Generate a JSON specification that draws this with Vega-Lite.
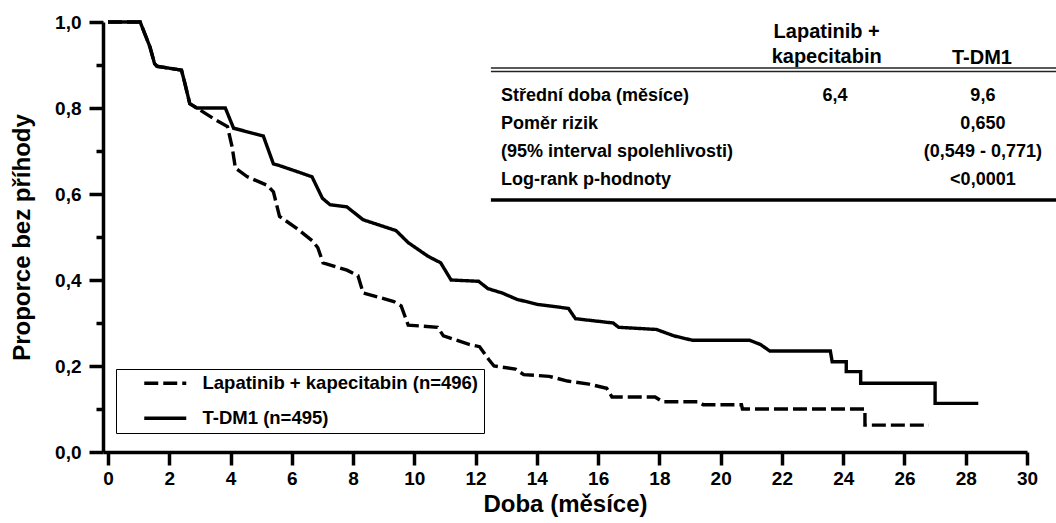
{
  "$schema": "https://vega.github.io/schema/vega-lite/v6.json",
  "width": 924,
  "height": 430,
  "autosize": {"type": "none"},
  "padding": {"left": 103, "top": 22, "right": 29, "bottom": 71},
  "background": "white",
  "config": {
    "view": {"stroke": null},
    "font": "Liberation Sans",
    "axis": {
      "domainColor": "black", "domainWidth": 3.5, "tickColor": "black", "tickWidth": 3.5,
      "labelColor": "black", "labelFont": "Liberation Sans", "labelFontWeight": "bold", "labelFontSize": 19,
      "titleColor": "black", "titleFont": "Liberation Sans", "titleFontWeight": "bold", "titleFontSize": 24,
      "grid": false, "labelOverlap": false, "labelFlush": false
    },
    "text": {"font": "Liberation Sans", "fontWeight": "bold", "color": "black"}
  },
  "datasets": {
    "km": [
      {"series": "Lapatinib + kapecitabin (n=496)", "i": 0, "month": 0, "surv": 1},
      {"series": "Lapatinib + kapecitabin (n=496)", "i": 1, "month": 1.05, "surv": 1},
      {"series": "Lapatinib + kapecitabin (n=496)", "i": 2, "month": 1.37, "surv": 0.942},
      {"series": "Lapatinib + kapecitabin (n=496)", "i": 3, "month": 1.52, "surv": 0.903},
      {"series": "Lapatinib + kapecitabin (n=496)", "i": 4, "month": 1.6, "surv": 0.897},
      {"series": "Lapatinib + kapecitabin (n=496)", "i": 5, "month": 2.4, "surv": 0.888},
      {"series": "Lapatinib + kapecitabin (n=496)", "i": 6, "month": 2.5, "surv": 0.86},
      {"series": "Lapatinib + kapecitabin (n=496)", "i": 7, "month": 2.67, "surv": 0.81},
      {"series": "Lapatinib + kapecitabin (n=496)", "i": 8, "month": 2.9, "surv": 0.8},
      {"series": "Lapatinib + kapecitabin (n=496)", "i": 9, "month": 3.43, "surv": 0.776},
      {"series": "Lapatinib + kapecitabin (n=496)", "i": 10, "month": 3.9, "surv": 0.757},
      {"series": "Lapatinib + kapecitabin (n=496)", "i": 11, "month": 4.05, "surv": 0.71},
      {"series": "Lapatinib + kapecitabin (n=496)", "i": 12, "month": 4.16, "surv": 0.66},
      {"series": "Lapatinib + kapecitabin (n=496)", "i": 13, "month": 4.55, "surv": 0.64},
      {"series": "Lapatinib + kapecitabin (n=496)", "i": 14, "month": 5.2, "surv": 0.62},
      {"series": "Lapatinib + kapecitabin (n=496)", "i": 15, "month": 5.4, "surv": 0.605},
      {"series": "Lapatinib + kapecitabin (n=496)", "i": 16, "month": 5.6, "surv": 0.548},
      {"series": "Lapatinib + kapecitabin (n=496)", "i": 17, "month": 6.16, "surv": 0.52},
      {"series": "Lapatinib + kapecitabin (n=496)", "i": 18, "month": 6.69, "surv": 0.49},
      {"series": "Lapatinib + kapecitabin (n=496)", "i": 19, "month": 6.85, "surv": 0.475},
      {"series": "Lapatinib + kapecitabin (n=496)", "i": 20, "month": 7.02, "surv": 0.44},
      {"series": "Lapatinib + kapecitabin (n=496)", "i": 21, "month": 7.8, "surv": 0.423},
      {"series": "Lapatinib + kapecitabin (n=496)", "i": 22, "month": 8.16, "surv": 0.41},
      {"series": "Lapatinib + kapecitabin (n=496)", "i": 23, "month": 8.33, "surv": 0.37},
      {"series": "Lapatinib + kapecitabin (n=496)", "i": 24, "month": 9.33, "surv": 0.35},
      {"series": "Lapatinib + kapecitabin (n=496)", "i": 25, "month": 9.57, "surv": 0.34},
      {"series": "Lapatinib + kapecitabin (n=496)", "i": 26, "month": 9.8, "surv": 0.295},
      {"series": "Lapatinib + kapecitabin (n=496)", "i": 27, "month": 10.76, "surv": 0.29},
      {"series": "Lapatinib + kapecitabin (n=496)", "i": 28, "month": 10.95, "surv": 0.27},
      {"series": "Lapatinib + kapecitabin (n=496)", "i": 29, "month": 11.81, "surv": 0.25},
      {"series": "Lapatinib + kapecitabin (n=496)", "i": 30, "month": 12.13, "surv": 0.245},
      {"series": "Lapatinib + kapecitabin (n=496)", "i": 31, "month": 12.43, "surv": 0.215},
      {"series": "Lapatinib + kapecitabin (n=496)", "i": 32, "month": 12.6, "surv": 0.2},
      {"series": "Lapatinib + kapecitabin (n=496)", "i": 33, "month": 13.3, "surv": 0.193},
      {"series": "Lapatinib + kapecitabin (n=496)", "i": 34, "month": 13.57, "surv": 0.18},
      {"series": "Lapatinib + kapecitabin (n=496)", "i": 35, "month": 14.4, "surv": 0.176},
      {"series": "Lapatinib + kapecitabin (n=496)", "i": 36, "month": 15.0, "surv": 0.165},
      {"series": "Lapatinib + kapecitabin (n=496)", "i": 37, "month": 15.7, "surv": 0.158},
      {"series": "Lapatinib + kapecitabin (n=496)", "i": 38, "month": 16.28, "surv": 0.148},
      {"series": "Lapatinib + kapecitabin (n=496)", "i": 39, "month": 16.45, "surv": 0.128},
      {"series": "Lapatinib + kapecitabin (n=496)", "i": 40, "month": 17.86, "surv": 0.128},
      {"series": "Lapatinib + kapecitabin (n=496)", "i": 41, "month": 18.1, "surv": 0.117},
      {"series": "Lapatinib + kapecitabin (n=496)", "i": 42, "month": 19.28, "surv": 0.117},
      {"series": "Lapatinib + kapecitabin (n=496)", "i": 43, "month": 19.43, "surv": 0.11},
      {"series": "Lapatinib + kapecitabin (n=496)", "i": 44, "month": 20.68, "surv": 0.11},
      {"series": "Lapatinib + kapecitabin (n=496)", "i": 45, "month": 20.71, "surv": 0.1},
      {"series": "Lapatinib + kapecitabin (n=496)", "i": 46, "month": 24.71, "surv": 0.1},
      {"series": "Lapatinib + kapecitabin (n=496)", "i": 47, "month": 24.71, "surv": 0.0625},
      {"series": "Lapatinib + kapecitabin (n=496)", "i": 48, "month": 26.8, "surv": 0.0625},
      {"series": "T-DM1 (n=495)", "i": 100, "month": 0, "surv": 1},
      {"series": "T-DM1 (n=495)", "i": 101, "month": 1.05, "surv": 1},
      {"series": "T-DM1 (n=495)", "i": 102, "month": 1.37, "surv": 0.942},
      {"series": "T-DM1 (n=495)", "i": 103, "month": 1.52, "surv": 0.903},
      {"series": "T-DM1 (n=495)", "i": 104, "month": 1.6, "surv": 0.897},
      {"series": "T-DM1 (n=495)", "i": 105, "month": 2.4, "surv": 0.888},
      {"series": "T-DM1 (n=495)", "i": 106, "month": 2.5, "surv": 0.86},
      {"series": "T-DM1 (n=495)", "i": 107, "month": 2.67, "surv": 0.81},
      {"series": "T-DM1 (n=495)", "i": 108, "month": 2.9, "surv": 0.8},
      {"series": "T-DM1 (n=495)", "i": 109, "month": 3.83, "surv": 0.8},
      {"series": "T-DM1 (n=495)", "i": 110, "month": 4.1, "surv": 0.753},
      {"series": "T-DM1 (n=495)", "i": 111, "month": 5.07, "surv": 0.735},
      {"series": "T-DM1 (n=495)", "i": 112, "month": 5.4, "surv": 0.67},
      {"series": "T-DM1 (n=495)", "i": 113, "month": 5.6, "surv": 0.666},
      {"series": "T-DM1 (n=495)", "i": 114, "month": 6.26, "surv": 0.65},
      {"series": "T-DM1 (n=495)", "i": 115, "month": 6.66, "surv": 0.64},
      {"series": "T-DM1 (n=495)", "i": 116, "month": 7.0, "surv": 0.59},
      {"series": "T-DM1 (n=495)", "i": 117, "month": 7.25, "surv": 0.575},
      {"series": "T-DM1 (n=495)", "i": 118, "month": 7.8, "surv": 0.57},
      {"series": "T-DM1 (n=495)", "i": 119, "month": 8.33, "surv": 0.54},
      {"series": "T-DM1 (n=495)", "i": 120, "month": 9.4, "surv": 0.515},
      {"series": "T-DM1 (n=495)", "i": 121, "month": 9.8, "surv": 0.487},
      {"series": "T-DM1 (n=495)", "i": 122, "month": 10.45, "surv": 0.455},
      {"series": "T-DM1 (n=495)", "i": 123, "month": 10.86, "surv": 0.44},
      {"series": "T-DM1 (n=495)", "i": 124, "month": 11.2, "surv": 0.4},
      {"series": "T-DM1 (n=495)", "i": 125, "month": 12.1, "surv": 0.397},
      {"series": "T-DM1 (n=495)", "i": 126, "month": 12.4, "surv": 0.38},
      {"series": "T-DM1 (n=495)", "i": 127, "month": 12.86, "surv": 0.37},
      {"series": "T-DM1 (n=495)", "i": 128, "month": 13.35, "surv": 0.355},
      {"series": "T-DM1 (n=495)", "i": 129, "month": 14.04, "surv": 0.343},
      {"series": "T-DM1 (n=495)", "i": 130, "month": 15.03, "surv": 0.334},
      {"series": "T-DM1 (n=495)", "i": 131, "month": 15.26, "surv": 0.31},
      {"series": "T-DM1 (n=495)", "i": 132, "month": 16.49, "surv": 0.3},
      {"series": "T-DM1 (n=495)", "i": 133, "month": 16.67, "surv": 0.29},
      {"series": "T-DM1 (n=495)", "i": 134, "month": 17.9, "surv": 0.285},
      {"series": "T-DM1 (n=495)", "i": 135, "month": 18.48, "surv": 0.27},
      {"series": "T-DM1 (n=495)", "i": 136, "month": 19.07, "surv": 0.26},
      {"series": "T-DM1 (n=495)", "i": 137, "month": 20.94, "surv": 0.26},
      {"series": "T-DM1 (n=495)", "i": 138, "month": 21.3, "surv": 0.25},
      {"series": "T-DM1 (n=495)", "i": 139, "month": 21.6, "surv": 0.235},
      {"series": "T-DM1 (n=495)", "i": 140, "month": 23.58, "surv": 0.235},
      {"series": "T-DM1 (n=495)", "i": 141, "month": 23.64, "surv": 0.21},
      {"series": "T-DM1 (n=495)", "i": 142, "month": 24.1, "surv": 0.21},
      {"series": "T-DM1 (n=495)", "i": 143, "month": 24.1, "surv": 0.187},
      {"series": "T-DM1 (n=495)", "i": 144, "month": 24.57, "surv": 0.187},
      {"series": "T-DM1 (n=495)", "i": 145, "month": 24.57, "surv": 0.16},
      {"series": "T-DM1 (n=495)", "i": 146, "month": 27.0, "surv": 0.16},
      {"series": "T-DM1 (n=495)", "i": 147, "month": 27.0, "surv": 0.113},
      {"series": "T-DM1 (n=495)", "i": 148, "month": 28.41, "surv": 0.113}
    ],
    "table": [
      {"row": "Střední doba (měsíce)", "lap": "6,4", "tdm": "9,6"},
      {"row": "Poměr rizik", "lap": "", "tdm": "0,650"},
      {"row": "(95% interval spolehlivosti)", "lap": "", "tdm": "(0,549 - 0,771)"},
      {"row": "Log-rank p-hodnoty", "lap": "", "tdm": "<0,0001"}
    ],
    "one": [{}]
  },
  "layer": [
    {
      "layer": [
        {
          "data": {"name": "km"},
          "mark": {"type": "line", "color": "black", "strokeWidth": 3.4, "strokeCap": "butt"},
          "encoding": {
            "x": {
              "field": "month", "type": "quantitative",
              "scale": {"domain": [-0.163, 30], "nice": false, "zero": false},
              "axis": {"values": [0,2,4,6,8,10,12,14,16,18,20,22,24,26,28,30], "tickSize": 13, "labelPadding": 4, "title": "Doba (měsíce)", "titlePadding": 4}
            },
            "y": {
              "field": "surv", "type": "quantitative",
              "scale": {"domain": [0, 1], "nice": false, "zero": false},
              "axis": {
                "values": [0,0.1,0.2,0.3,0.4,0.5,0.6,0.7,0.8,0.9,1],
                "tickSize": {"condition": {"test": "round(datum.value*10)%2==1", "value": 7}, "value": 14},
                "labelExpr": "round(datum.value*10)%2==1 ? '' : replace(format(datum.value, '.1f'), '.', ',')",
                "labelPadding": 8,
                "title": "Proporce bez příhody",
                "titlePadding": 20
              }
            },
            "strokeDash": {
              "field": "series", "type": "nominal",
              "scale": {"domain": ["Lapatinib + kapecitabin (n=496)", "T-DM1 (n=495)"], "range": [[14, 5], [1, 0]]},
              "legend": {
                "title": null, "orient": "none", "legendX": 13, "legendY": 347,
                "symbolType": "M-3,0H3", "symbolSize": 196, "symbolStrokeWidth": 3.5, "symbolStrokeColor": "black",
                "symbolOffset": 35, "labelOffset": 28, "labelLimit": 500,
                "labelFont": "Liberation Sans", "labelFontWeight": "bold", "labelFontSize": 18.5, "labelColor": "black",
                "padding": 5, "rowPadding": 16, "strokeColor": "black"
              }
            },
            "order": {"field": "i", "type": "quantitative"}
          }
        },
        {
          "data": {"name": "one"},
          "mark": {"type": "text", "align": "center", "baseline": "middle", "fontSize": 20},
          "encoding": {"x": {"datum": 23.46}, "y": {"datum": 0.9767}, "text": {"value": "Lapatinib +"}}
        },
        {
          "data": {"name": "one"},
          "mark": {"type": "text", "align": "center", "baseline": "middle", "fontSize": 20},
          "encoding": {"x": {"datum": 23.46}, "y": {"datum": 0.9186}, "text": {"value": "kapecitabin"}}
        },
        {
          "data": {"name": "one"},
          "mark": {"type": "text", "align": "center", "baseline": "middle", "fontSize": 20},
          "encoding": {"x": {"datum": 28.53}, "y": {"datum": 0.9163}, "text": {"value": "T-DM1"}}
        },
        {
          "data": {"name": "one"},
          "mark": {"type": "rule", "color": "#222", "strokeWidth": 1.5},
          "encoding": {"x": {"datum": 12.5}, "x2": {"datum": 30.95}, "y": {"datum": 0.893}}
        },
        {
          "data": {"name": "one"},
          "mark": {"type": "rule", "color": "#222", "strokeWidth": 1.5},
          "encoding": {"x": {"datum": 12.5}, "x2": {"datum": 30.95}, "y": {"datum": 0.8849}}
        },
        {
          "data": {"name": "one"},
          "mark": {"type": "rule", "color": "black", "strokeWidth": 3.5},
          "encoding": {"x": {"datum": 12.5}, "x2": {"datum": 30.95}, "y": {"datum": 0.586}}
        }
      ]
    },
    {
      "data": {"name": "table"},
      "encoding": {
        "y": {
          "field": "row", "type": "nominal",
          "scale": {"type": "point", "domain": ["Střední doba (měsíce)", "Poměr rizik", "(95% interval spolehlivosti)", "Log-rank p-hodnoty"], "range": [74, 158], "padding": 0},
          "axis": null
        }
      },
      "layer": [
        {
          "mark": {"type": "text", "align": "left", "baseline": "middle", "fontSize": 18},
          "encoding": {"x": {"datum": 12.83}, "text": {"field": "row"}}
        },
        {
          "mark": {"type": "text", "align": "center", "baseline": "middle", "fontSize": 18},
          "encoding": {"x": {"datum": 23.73}, "text": {"field": "lap"}}
        },
        {
          "mark": {"type": "text", "align": "center", "baseline": "middle", "fontSize": 18},
          "encoding": {"x": {"datum": 28.56}, "text": {"field": "tdm"}}
        }
      ]
    }
  ],
  "resolve": {"scale": {"y": "independent"}}
}
